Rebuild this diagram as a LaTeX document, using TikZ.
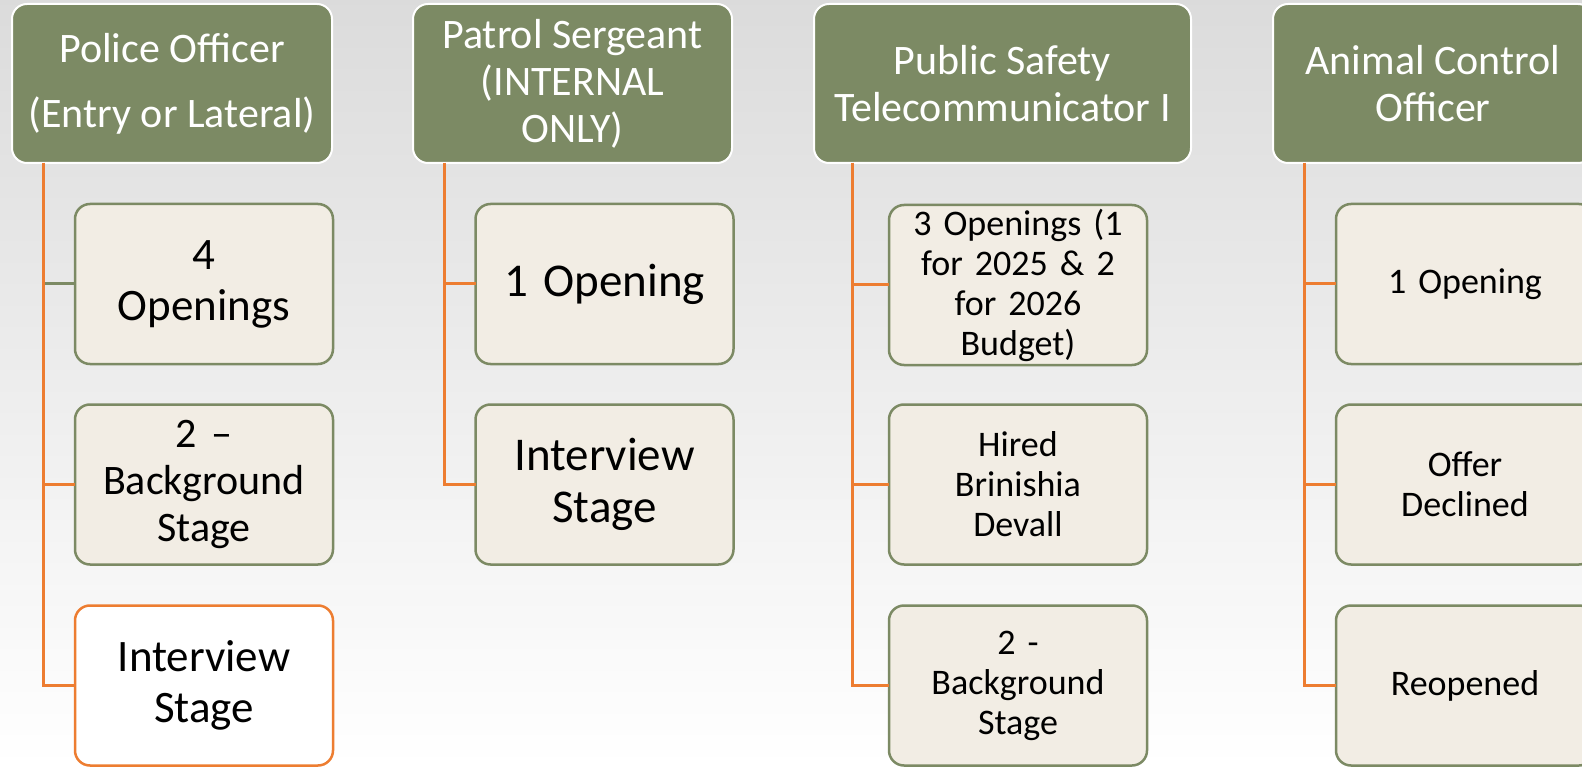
\documentclass[tikz,border=0pt]{standalone}
\usepackage{fontspec}
\setmainfont{Carlito}
\usetikzlibrary{positioning}

\definecolor{olive}{RGB}{124,138,100}
\definecolor{linen}{RGB}{242,237,228}
\definecolor{accent}{RGB}{237,125,49}

\begin{document}
\begin{tikzpicture}[x=1pt,y=-1pt]
        \useasboundingbox (0,0) rectangle (1582,767);
        \shade[top color=black!14,middle color=black!6,bottom color=white] (0,0) rectangle (1582,767);
        \tikzstyle{titlebox} = [rectangle,rounded corners=15pt,fill=olive,draw=white,line width=2pt,
                text=white,align=center,inner sep=0pt,outer sep=0pt,minimum height=159pt,
                font=\fontsize{42}{47}\selectfont]
        \tikzstyle{statusbox} = [rectangle,rounded corners=15pt,fill=linen,draw=olive,line width=2.5pt,
                text=black,align=center,inner sep=0pt,outer sep=0pt,minimum width=258pt,minimum height=160pt,
                text width=250pt,font=\fontsize{36}{40}\selectfont]
        \tikzstyle{bigtext} = [font=\fontsize{45}{51}\selectfont]
        \tikzstyle{spine} = [draw=accent,line width=3pt]
        \begin{scope}
        \clip (0,0) rectangle (1582,767);
        % headers
        \node[titlebox,minimum width=320pt] (officer) at (172,83.5) {Police Officer\\[18pt](Entry or Lateral)};
        \node[titlebox,minimum width=319pt] (sergeant) at (572.5,83.5) {Patrol Sergeant\\(INTERNAL\\ONLY)};
        \node[titlebox,minimum width=377pt] (telecom) at (1002.5,83.5) {Public Safety\\Telecommunicator I};
        \node[titlebox,minimum width=320pt] (animal) at (1433,83.5) {Animal Control\\Officer};
        % police officer
        \node[statusbox,bigtext] (po1) at (204,284) {4\\Openings};
        \node[statusbox,font=\fontsize{42}{47}\selectfont] (po2) at (204,484.5) {2 --\\Background\\Stage};
        \node[statusbox,bigtext,fill=white,draw=accent] (po3) at (204,685.5) {Interview\\Stage};
        % patrol sergeant
        \node[statusbox,font=\fontsize{47}{52}\selectfont] (ps1) at (604.5,284) {1 Opening};
        \node[statusbox,font=\fontsize{47}{52}\selectfont] (ps2) at (604.5,484.5) {Interview\\Stage};
        % telecommunicator
        \node[statusbox] (pt1) at (1018,285) {3 Openings (1\\for 2025 \& 2\\for 2026\\Budget)};
        \node[statusbox] (pt2) at (1018,484.5) {Hired\\Brinishia\\Devall};
        \node[statusbox] (pt3) at (1018,685.5) {2 -\\Background\\Stage};
        % animal control
        \node[statusbox] (ac1) at (1465,284) {1 Opening};
        \node[statusbox] (ac2) at (1465,484.5) {Offer\\Declined};
        \node[statusbox] (ac3) at (1465,685.5) {Reopened};
        \end{scope}
        % connectors
        \draw[draw=olive,line width=3pt] ([xshift=31pt]officer.south west) |- (po1.west);
        \draw[spine] ([xshift=31pt]officer.south west) |- (po3.west);
        \draw[spine] ([xshift=31pt]officer.south west) |- (po2.west);
        \draw[spine] ([xshift=31pt]sergeant.south west) |- (ps1.west);
        \draw[spine] ([xshift=31pt]sergeant.south west) |- (ps2.west);
        \draw[spine] ([xshift=38pt]telecom.south west) |- (pt1.west);
        \draw[spine] ([xshift=38pt]telecom.south west) |- (pt2.west);
        \draw[spine] ([xshift=38pt]telecom.south west) |- (pt3.west);
        \draw[spine] ([xshift=31pt]animal.south west) |- (ac1.west);
        \draw[spine] ([xshift=31pt]animal.south west) |- (ac2.west);
        \draw[spine] ([xshift=31pt]animal.south west) |- (ac3.west);
\end{tikzpicture}
\end{document}
